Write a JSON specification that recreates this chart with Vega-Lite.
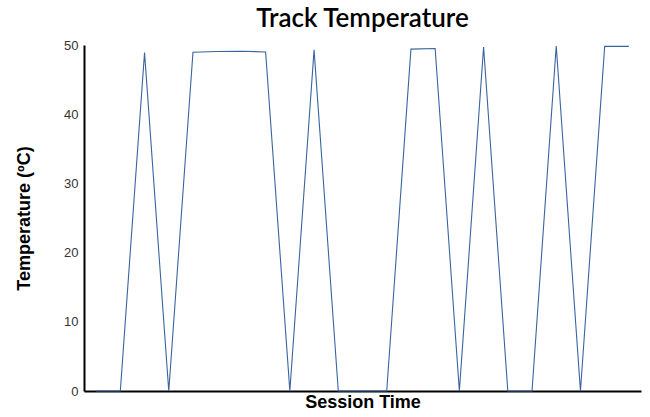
{
  "$schema": "https://vega.github.io/schema/vega-lite/v6.json",
  "autosize": "none",
  "width": 557,
  "height": 346,
  "padding": {"left": 84, "top": 45, "right": 9, "bottom": 26},
  "background": "white",
  "title": {
    "text": "Track Temperature",
    "font": "Lato",
    "fontSize": 26,
    "fontWeight": 600,
    "color": "#000000",
    "anchor": "middle",
    "offset": 7
  },
  "config": {"view": {"stroke": null}},
  "data": {
    "values": [
      {"t": 0, "temp": 0},
      {"t": 1, "temp": 0},
      {"t": 2, "temp": 48.9},
      {"t": 3, "temp": 0},
      {"t": 4, "temp": 48.95},
      {"t": 5, "temp": 49.05},
      {"t": 6, "temp": 49.1},
      {"t": 7, "temp": 49.0},
      {"t": 8, "temp": 0},
      {"t": 9, "temp": 49.3},
      {"t": 10, "temp": 0},
      {"t": 11, "temp": 0},
      {"t": 12, "temp": 0},
      {"t": 13, "temp": 49.4},
      {"t": 14, "temp": 49.5},
      {"t": 15, "temp": 0},
      {"t": 16, "temp": 49.7},
      {"t": 17, "temp": 0},
      {"t": 18, "temp": 0},
      {"t": 19, "temp": 49.85},
      {"t": 20, "temp": 0},
      {"t": 21, "temp": 49.8},
      {"t": 22, "temp": 49.8}
    ]
  },
  "mark": {"type": "line", "color": "#3a64a0", "strokeWidth": 1.1},
  "encoding": {
    "x": {
      "field": "t",
      "type": "quantitative",
      "scale": {"domain": [-0.5, 22.5], "nice": false, "zero": false},
      "axis": {
        "title": "Session Time",
        "titleFont": "Liberation Sans",
        "titleFontSize": 18,
        "titleFontWeight": "bold",
        "titleColor": "#000000",
        "titlePadding": 2,
        "labels": false,
        "ticks": false,
        "grid": false,
        "domainColor": "#000000",
        "domainWidth": 2
      }
    },
    "y": {
      "field": "temp",
      "type": "quantitative",
      "scale": {"domain": [0, 50], "nice": false},
      "axis": {
        "title": "Temperature (ºC)",
        "titleFont": "Liberation Sans",
        "titleFontSize": 18,
        "titleFontWeight": "bold",
        "titleColor": "#000000",
        "titlePadding": 30,
        "values": [0, 10, 20, 30, 40, 50],
        "labelFont": "Liberation Sans",
        "labelFontSize": 13,
        "labelColor": "#333333",
        "labelPadding": 6,
        "ticks": false,
        "grid": false,
        "domainColor": "#000000",
        "domainWidth": 2
      }
    }
  }
}
